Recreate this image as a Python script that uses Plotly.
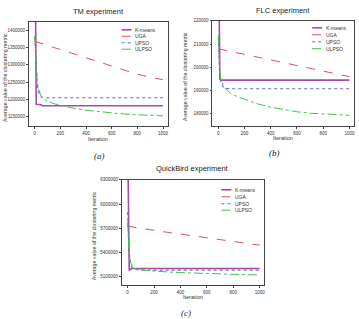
import plotly.graph_objects as go

W, H = 359, 319

# ---------------- data ----------------
iters = [0, 10, 20, 30, 40, 50, 75, 100, 150, 200, 300, 400, 500, 600, 700, 800, 900, 1000]

# TM experiment
tm_kmeans_x = [4, 8, 12, 50, 60, 1000]
tm_kmeans_y = [1600000, 1186000, 1186000, 1185000, 1182000, 1182000]
tm_uga = [1368000, 1367000, 1366000, 1364500, 1363000, 1362000, 1359000, 1356000, 1350000,
          1344000, 1332000, 1320000, 1308000, 1296000, 1284000, 1273000, 1264000, 1257000]
tm_upso = [1380000, 1290000, 1240000, 1222000, 1212000, 1207000, 1205000, 1205000, 1205000,
           1205000, 1205000, 1205000, 1205000, 1205000, 1205000, 1205000, 1205000, 1205000]
tm_ulpso = [1385000, 1300000, 1252000, 1230000, 1218000, 1210000, 1201000, 1195000, 1188000,
            1183000, 1175000, 1169000, 1165000, 1161000, 1158000, 1156000, 1154500, 1153000]

# FLC experiment
flc_kmeans_x = [4, 8, 12, 20, 1000]
flc_kmeans_y = [240000, 197000, 195000, 194500, 194500]
flc_uga = [208000, 207900, 207800, 207600, 207500, 207400, 207100, 206800, 206200,
           205600, 204400, 203200, 202000, 200800, 199600, 198400, 197200, 196000]
flc_upso = [213000, 197500, 193500, 192000, 191300, 191000, 190800, 190800, 190800,
            190800, 190800, 190800, 190800, 190800, 190800, 190800, 190800, 190800]
flc_ulpso = [214000, 199000, 195000, 193000, 191800, 191000, 189600, 188600, 187300,
             186300, 184300, 182900, 181800, 180900, 180300, 179900, 179600, 179400]

# QuickBird experiment
qb_kmeans_x = [3, 8, 12, 30, 1000]
qb_kmeans_y = [6500000, 5180000, 5178000, 5200000, 5200000]
qb_uga = [5725000, 5722000, 5719000, 5716000, 5713000, 5710000, 5704000, 5698000, 5686000,
          5674000, 5650000, 5626000, 5603000, 5580000, 5557000, 5534000, 5512000, 5490000]
qb_upso = [5900000, 5450000, 5280000, 5220000, 5205000, 5195000, 5185000, 5180000, 5180000,
           5180000, 5180000, 5180000, 5180000, 5180000, 5180000, 5180000, 5180000, 5180000]
qb_ulpso = [5780000, 5420000, 5290000, 5240000, 5215000, 5200000, 5190000, 5185000, 5175000,
            5168000, 5158000, 5150000, 5143000, 5137000, 5132000, 5127000, 5123000, 5120000]

series_names = ["K-means", "UGA", "UPSO", "ULPSO"]
titles = ["TM experiment", "FLC experiment", "QuickBird experiment"]
captions = ["(a)", "(b)", "(c)"]
x_ticks = [0, 200, 400, 600, 800, 1000]
tm_yticks = [1150000, 1200000, 1250000, 1300000, 1350000, 1400000]
flc_yticks = [180000, 190000, 200000, 210000, 220000]
qb_yticks = [5100000, 5400000, 5700000, 6000000, 6300000]

# ---------------- styling ----------------
colors = ["#a64ca6", "#e0505a", "#6a6ad0", "#44c444"]
dashes = ["solid", "dash", "dot", "dashdot"]
widths = [1.6, 1.0, 1.1, 1.0]
FONT = "Liberation Sans, Arial, sans-serif"

def px_x(p):
    return p / W

def px_y(p):
    return 1 - p / H

panels = [
    dict(xd=[29, 168], yd=[20, 125], yr=[1123000, 1424000], yt=tm_yticks,
         data=[(tm_kmeans_x, tm_kmeans_y), (iters, tm_uga), (iters, tm_upso), (iters, tm_ulpso)],
         title_y=9.5, iter_y=138, cap=(100, 155), ytitle_x=5,
         leg_x=122, leg_rows=[28, 34.5, 41, 47.5]),
    dict(xd=[213, 355], yd=[19, 125], yr=[174700, 220000], yt=flc_yticks,
         data=[(flc_kmeans_x, flc_kmeans_y), (iters, flc_uga), (iters, flc_upso), (iters, flc_ulpso)],
         title_y=9, iter_y=137, cap=(275, 152), ytitle_x=185,
         leg_x=313, leg_rows=[26, 33, 40, 47]),
    dict(xd=[122, 265], yd=[179, 285], yr=[4993000, 6300000], yt=qb_yticks,
         data=[(qb_kmeans_x, qb_kmeans_y), (iters, qb_uga), (iters, qb_upso), (iters, qb_ulpso)],
         title_y=168, iter_y=297, cap=(187, 313), ytitle_x=94,
         leg_x=222, leg_rows=[189, 196, 203, 209.5]),
]

fig = go.Figure()
layout = dict(width=W, height=H, margin=dict(l=0, r=0, t=0, b=0), showlegend=False,
              paper_bgcolor="white", plot_bgcolor="white", annotations=[], shapes=[])

for i, p in enumerate(panels):
    sfx = "" if i == 0 else str(i + 1)
    for k, (xs, ys) in enumerate(p["data"]):
        fig.add_trace(go.Scatter(
            x=xs, y=ys, mode="lines", name=series_names[k],
            line=dict(color=colors[k], dash=dashes[k], width=widths[k]),
            xaxis="x" + sfx, yaxis="y" + sfx))
    xdom = [px_x(p["xd"][0]), px_x(p["xd"][1])]
    ydom = [px_y(p["yd"][1]), px_y(p["yd"][0])]
    axcommon = dict(showline=True, linecolor="#444", linewidth=0.8, mirror=True,
                    ticks="outside", ticklen=2, tickwidth=0.8, tickcolor="#444",
                    showgrid=False, zeroline=False,
                    tickfont=dict(size=4.5, family=FONT, color="#333"))
    layout["xaxis" + sfx] = dict(domain=xdom, range=[-45, 1035], tickvals=x_ticks,
                                 anchor="y" + sfx, **axcommon)
    layout["yaxis" + sfx] = dict(domain=ydom, range=p["yr"], tickvals=p["yt"],
                                 ticktext=[str(v) for v in p["yt"]],
                                 anchor="x" + sfx, **axcommon)
    # manual legend (compact rows like the original)
    for k in range(4):
        ry = px_y(p["leg_rows"][k])
        layout["shapes"].append(dict(
            type="line", xref="paper", yref="paper",
            x0=px_x(p["leg_x"]), x1=px_x(p["leg_x"] + 10), y0=ry, y1=ry,
            line=dict(color=colors[k], dash=dashes[k], width=widths[k])))
        layout["annotations"].append(dict(
            text=series_names[k], x=px_x(p["leg_x"] + 11.5), y=ry, xref="paper", yref="paper",
            showarrow=False, xanchor="left", yanchor="middle",
            font=dict(size=5, family=FONT, color="#333")))
    cx = (p["xd"][0] + p["xd"][1]) / 2
    layout["annotations"] += [
        dict(text=titles[i], x=px_x(cx), y=px_y(p["title_y"]), xref="paper", yref="paper",
             showarrow=False, xanchor="center", yanchor="middle",
             font=dict(size=7.5, family=FONT, color="#222")),
        dict(text="Iteration", x=px_x(cx), y=px_y(p["iter_y"]), xref="paper", yref="paper",
             showarrow=False, xanchor="center", yanchor="middle",
             font=dict(size=5.5, family=FONT, color="#333")),
        dict(text="Average value of the clustering metric", x=px_x(p["ytitle_x"]),
             y=px_y((p["yd"][0] + p["yd"][1]) / 2 + 3), xref="paper", yref="paper",
             showarrow=False, textangle=-90, xanchor="center", yanchor="middle",
             font=dict(size=5.3, family=FONT, color="#333")),
        dict(text="<i>" + captions[i] + "</i>", x=px_x(p["cap"][0]), y=px_y(p["cap"][1]),
             xref="paper", yref="paper", showarrow=False, xanchor="center", yanchor="middle",
             font=dict(size=9, family="Liberation Serif, Times New Roman, serif", color="#222")),
    ]

fig.update_layout(**layout)
fig.write_html("out.html")
